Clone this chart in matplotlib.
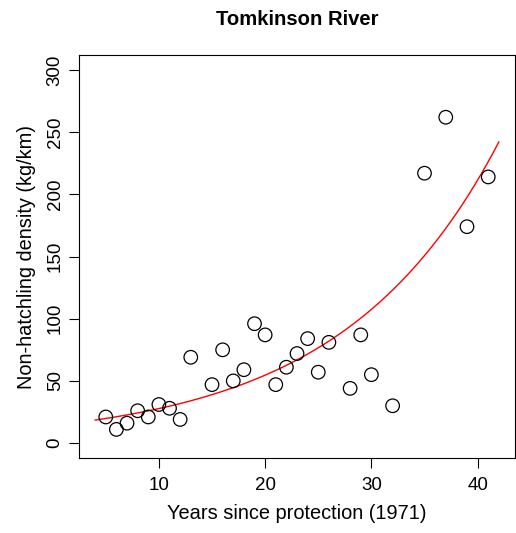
import numpy as np
import matplotlib.pyplot as plt

plt.rcParams['font.family'] = ['Liberation Sans', 'DejaVu Sans']

years = [5, 6, 7, 8, 9, 10, 11, 12, 13, 15, 16, 17, 18, 19, 20, 21, 22, 23, 24, 25,
         26, 28, 29, 30, 32, 35, 37, 39, 41]
density = [21, 11, 16, 26, 21, 31, 28, 19, 69, 47, 75, 50, 59, 96, 87, 47, 61, 72, 84, 57,
           81, 44, 87, 55, 30, 217, 262, 174, 214]

# fitted exponential curve y = a * exp(b * x)
fit_a = 14.1
fit_b = 0.0677
fit_x = np.linspace(4, 42, 200)
fit_y = fit_a * np.exp(fit_b * fit_x)

fig = plt.figure(figsize=(5.16, 5.33), dpi=100)
ax = fig.add_axes([0.1531, 0.1407, 0.845, 0.756])

ax.plot(fit_x, fit_y, color='red', lw=1)
ax.scatter(years, density, s=95, facecolors='none', edgecolors='black', linewidths=0.9, zorder=3)

ax.set_xlim(2.48, 43.52)
ax.set_ylim(-12, 312)
ax.set_xticks([10, 20, 30, 40])
ax.set_yticks(np.arange(0, 301, 50))
ax.tick_params(length=7, width=0.8, labelsize=13.5)
ax.tick_params(axis='x', pad=7)
ax.tick_params(axis='y', pad=4)
for lab in ax.get_yticklabels():
    lab.set_rotation(90)
    lab.set_va('center')
for s in ax.spines.values():
    s.set_linewidth(0.8)

ax.set_xlabel('Years since protection (1971)', fontsize=14.4, labelpad=7)
ax.set_ylabel('Non-hatchling density (kg/km)', fontsize=14.4, labelpad=8)
ax.set_title('Tomkinson River', fontsize=14.6, fontweight='bold', pad=22)

fig.savefig('out.png', dpi=100)
